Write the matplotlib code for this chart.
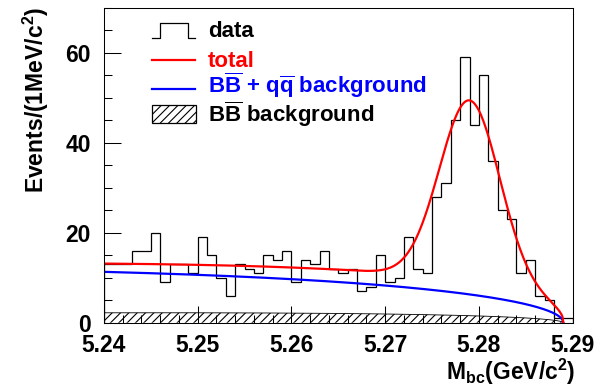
import numpy as np
import matplotlib
matplotlib.use("Agg")
import matplotlib.pyplot as plt
from matplotlib.ticker import MultipleLocator
from matplotlib.patches import Rectangle

plt.rcParams.update({
    "font.family": "Liberation Sans",
    "font.weight": "bold",
    "mathtext.fontset": "custom",
    "mathtext.rm": "Liberation Sans:bold",
    "mathtext.it": "Liberation Sans:bold",
    "mathtext.bf": "Liberation Sans:bold",
    "mathtext.sf": "Liberation Sans:bold",
    "hatch.linewidth": 0.8,
})

# ---- histogram: M_bc in 1 MeV/c^2 bins ----
mbc_lo, mbc_hi = 5.24, 5.29
counts = [13, 13, 13, 16, 16, 20, 9, 13, 13, 11,
          19, 15, 10, 6, 13, 12, 11, 15, 14, 16,
          9, 14, 13, 16, 12, 11, 12, 7, 8, 15,
          9, 10, 19, 12, 11, 28, 31, 45, 59, 44,
          55, 36, 25, 23, 11, 14, 6, 5, 1, 1]

# ---- fit components ----
endpoint = 5.289            # ARGUS kinematic endpoint (GeV/c^2)
bkg_norm, bkg_curv = 20.41, -13.6        # BB + qq continuum
broad_norm, broad_curv = 11.3, -80.0     # broad peaking part of the total
bbbar_norm, bbbar_curv = 5.38, -30.0     # BB background (hatched)
sig_mean, sig_sigma, sig_amp = 5.2790, 0.0032, 40.4


def argus(m, norm, curv):
    v = np.clip(1.0 - (m / endpoint) ** 2, 0.0, None)
    return norm * m * np.sqrt(v) * np.exp(curv * v)


def gauss(m):
    return sig_amp * np.exp(-0.5 * ((m - sig_mean) / sig_sigma) ** 2)


m = np.linspace(mbc_lo, endpoint, 600)
bkg = argus(m, bkg_norm, bkg_curv)
bbbar = argus(m, bbbar_norm, bbbar_curv)
total = bkg + argus(m, broad_norm, broad_curv) + gauss(m)
total[-1] = 0.0

edges = np.linspace(mbc_lo, mbc_hi, len(counts) + 1)

# ---- figure ----
W, H = 605, 391
fig = plt.figure(figsize=(W / 100, H / 100), dpi=100)
ax_l, ax_r, ax_t, ax_b = 104, 572.7, 7.7, 322.7
ax = fig.add_axes([ax_l / W, 1 - ax_b / H, (ax_r - ax_l) / W, (ax_b - ax_t) / H])

ax.fill_between(m, 0, bbbar, facecolor="none", edgecolor="black",
                hatch="////", linewidth=0)
ax.plot(m, bbbar, color="black", lw=0.6)
ax.stairs(counts, edges, color="black", lw=0.9)
ax.plot(m, bkg, color="blue", lw=1.6)
ax.plot(m, total, color="red", lw=1.6)

ax.set_xlim(mbc_lo, mbc_hi)
ax.set_ylim(0, 70)
ax.xaxis.set_major_locator(MultipleLocator(0.01))
ax.xaxis.set_minor_locator(MultipleLocator(0.002))
ax.yaxis.set_major_locator(MultipleLocator(20))
ax.yaxis.set_minor_locator(MultipleLocator(5))
ax.xaxis.set_major_formatter(plt.FuncFormatter(lambda v, p: f"{v:.2f}"))
ax.tick_params(which="both", direction="in", top=False, right=False,
               width=0.75, labelsize=16.5)
ax.tick_params(which="major", length=12)
ax.tick_params(which="minor", length=5.8)
ax.tick_params(axis="x", pad=8.0)
ax.tick_params(axis="y", pad=9.4)
for sp in ax.spines.values():
    sp.set_linewidth(0.75)

# axis titles
fig.text(35.5 / W, 1 - 7 / H, r"Events/(1MeV/c$^{2}$)", rotation=90,
         ha="center", va="top", fontsize=16.5, fontweight="bold")
fig.text(575 / W, 1 - 357 / H, r"M$_{\mathrm{bc}}$(GeV/c$^{2}$)",
         ha="right", va="top", fontsize=16.5, fontweight="bold")

# ---- legend ----
def ax_xy(px, py):
    return (px - ax_l) / (ax_r - ax_l), (ax_b - py) / (ax_b - ax_t)


tr = ax.transAxes
sx = [151.7, 160, 160, 188.3, 188.3, 195]
sy = [37.7, 37.7, 23.3, 23.3, 37.7, 37.7]
pts = [ax_xy(a, b) for a, b in zip(sx, sy)]
ax.plot([p[0] for p in pts], [p[1] for p in pts], color="black", lw=0.9,
        transform=tr, clip_on=False)
for py, col in [(60, "red"), (88.7, "blue")]:
    (x0, y0), (x1, _) = ax_xy(151.7, py), ax_xy(195, py)
    ax.plot([x0, x1], [y0, y0], color=col, lw=1.6, transform=tr, clip_on=False)
(bx0, by0), (bx1, by1) = ax_xy(151.7, 123.3), ax_xy(196, 105)
ax.add_patch(Rectangle((bx0, by0), bx1 - bx0, by1 - by0, transform=tr,
                       facecolor="none", edgecolor="black", hatch="////",
                       lw=0.9, clip_on=False))

labels = [
    ("data", "black", 37.3),
    ("total", "red", 66.7),
    (r"B$\overline{\mathrm{B}}$ + q$\overline{\mathrm{q}}$ background", "blue", 93.3),
    (r"B$\overline{\mathrm{B}}$ background", "black", 121.7),
]
for txt, col, py in labels:
    tx, ty = ax_xy(208, py)
    ax.text(tx, ty, txt, color=col, transform=tr, ha="left", va="baseline",
            fontsize=16, fontweight="bold")

fig.savefig("out.png", dpi=100)
